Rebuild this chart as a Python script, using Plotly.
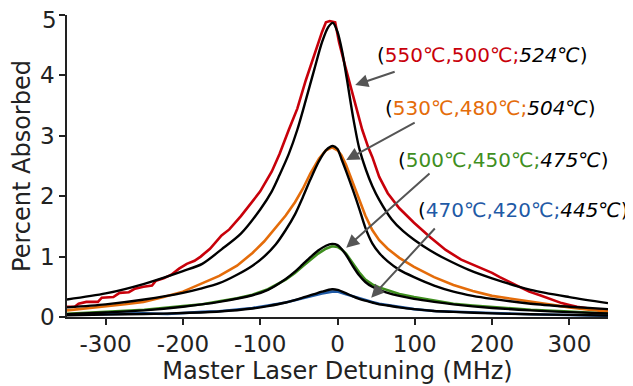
import plotly.graph_objects as go

# ---------------- data ----------------
red_x = [-350,-340,-335,-325,-310,-305,-290,-282,-270,-262,-251,-240,-235,-225,-215,-205,-195,-185,-177,-165,-150,-140,-125,-110,-100,-85,-75,-63,-52,-41,-30,-20,-15,-10,-3,2,10,17,24,32,40,45,54,65,80,99,120,140,160,180,200,210,222,235,248,262,278,290,300,310,321,335,350]
red_y = [0.17,0.17,0.22,0.25,0.25,0.32,0.33,0.40,0.41,0.47,0.50,0.52,0.60,0.64,0.70,0.80,0.88,0.93,1.00,1.13,1.35,1.45,1.67,1.92,2.08,2.41,2.70,3.10,3.45,3.92,4.35,4.72,4.88,4.90,4.88,4.55,4.15,3.80,3.48,3.10,2.80,2.65,2.32,2.05,1.80,1.56,1.32,1.11,0.95,0.84,0.73,0.66,0.58,0.50,0.42,0.36,0.29,0.23,0.20,0.17,0.15,0.12,0.09]

red_fit_x = [-350,-300,-250,-200,-175,-150,-125,-100,-85,-75,-63,-52,-41,-30,-20,-12,-6,0,6,12,20,28,37,45,54,70,85,100,120,140,170,200,250,300,350]
red_fit_y = [0.29,0.39,0.55,0.76,0.88,1.12,1.38,1.78,2.08,2.35,2.70,3.10,3.59,4.10,4.55,4.80,4.87,4.72,4.40,3.95,3.32,2.80,2.43,2.17,1.94,1.62,1.42,1.27,1.10,0.96,0.78,0.64,0.45,0.33,0.23]

orange_x = [-350,-325,-300,-275,-251,-225,-200,-177,-153,-130,-110,-95,-85,-67,-55,-45,-35,-24,-15,-7,0,5,11,20,28,36,45,54,65,80,99,125,150,175,200,225,248,275,300,325,350]
orange_y = [0.11,0.14,0.18,0.21,0.25,0.33,0.42,0.55,0.68,0.85,1.06,1.25,1.40,1.68,1.90,2.12,2.38,2.62,2.76,2.81,2.76,2.68,2.52,2.22,1.94,1.68,1.44,1.27,1.13,0.98,0.83,0.66,0.53,0.43,0.35,0.30,0.26,0.20,0.16,0.12,0.09]

orange_fit_x = [-350,-300,-250,-200,-177,-153,-130,-110,-95,-80,-67,-55,-45,-35,-24,-15,-6,0,5,11,20,28,36,45,54,65,80,99,125,150,175,200,250,300,350]
orange_fit_y = [0.16,0.21,0.29,0.40,0.47,0.56,0.70,0.85,1.00,1.20,1.44,1.70,1.98,2.28,2.58,2.76,2.83,2.78,2.62,2.42,2.10,1.80,1.48,1.22,1.06,0.92,0.78,0.66,0.52,0.42,0.35,0.30,0.22,0.17,0.13]

green_x = [-350,-300,-250,-200,-175,-153,-130,-110,-90,-67,-55,-45,-35,-25,-15,-7,0,5,11,20,28,36,45,54,65,80,99,125,150,175,200,250,300,350]
green_y = [0.055,0.083,0.12,0.18,0.21,0.26,0.31,0.37,0.46,0.62,0.73,0.84,0.95,1.05,1.13,1.17,1.16,1.12,1.05,0.88,0.74,0.62,0.54,0.49,0.44,0.38,0.33,0.27,0.22,0.19,0.165,0.12,0.09,0.055]

green_fit_x = [-350,-300,-250,-200,-153,-110,-90,-67,-55,-45,-35,-25,-15,-7,0,5,11,20,28,36,45,54,65,80,99,125,150,200,250,300,350]
green_fit_y = [0.045,0.075,0.11,0.17,0.25,0.36,0.45,0.63,0.75,0.87,0.99,1.10,1.18,1.21,1.19,1.13,1.03,0.84,0.69,0.58,0.50,0.45,0.40,0.35,0.30,0.25,0.21,0.15,0.11,0.08,0.06]

blue_x = [-350,-300,-250,-220,-200,-175,-153,-130,-110,-90,-67,-45,-30,-20,-7,0,10,20,28,36,45,54,65,80,99,125,150,200,250,300,350]
blue_y = [0.04,0.05,0.06,0.05,0.07,0.085,0.095,0.12,0.15,0.19,0.24,0.31,0.36,0.39,0.42,0.42,0.38,0.34,0.31,0.28,0.25,0.22,0.20,0.17,0.13,0.10,0.085,0.065,0.045,0.03,0.02]

blue_fit_x = [-350,-300,-250,-200,-153,-110,-90,-67,-45,-30,-20,-7,0,10,20,28,36,45,54,65,80,99,125,150,200,250,300,350]
blue_fit_y = [0.03,0.04,0.05,0.065,0.09,0.14,0.18,0.24,0.32,0.38,0.42,0.46,0.45,0.40,0.34,0.30,0.27,0.24,0.21,0.19,0.16,0.13,0.10,0.085,0.06,0.045,0.035,0.025]

x_ticks = [-300, -200, -100, 0, 100, 200, 300]
y_ticks = [0, 1, 2, 3, 4, 5]

RED = "#c8000a"
ORANGE = "#e46c0a"
GREEN = "#3f8f1f"
BLUE = "#1f5aa6"
FONT = "DejaVu Sans"
AXIS_COL = "#222222"

labels = [
    ("550℃,500℃;", "524℃", RED),
    ("530℃,480℃;", "504℃", ORANGE),
    ("500℃,450℃;", "475℃", GREEN),
    ("470℃,420℃;", "445℃", BLUE),
]
# label anchor (left, middle) and arrow (tail -> head) in data coordinates
label_pos = [(48, 4.34), (58.5, 3.46), (75.5, 2.60), (101, 1.77)]
arrow_tail = [(75.9, 4.07), (101.8, 3.23), (121, 2.40), (127.7, 1.49)]
arrow_head = [(22.9, 3.84), (11.3, 2.60), (11.3, 1.145), (43.6, 0.32)]

fig = go.Figure()
series = [
    (red_x, red_y, red_fit_x, red_fit_y, RED),
    (orange_x, orange_y, orange_fit_x, orange_fit_y, ORANGE),
    (green_x, green_y, green_fit_x, green_fit_y, GREEN),
    (blue_x, blue_y, blue_fit_x, blue_fit_y, BLUE),
]
for dx, dy, fx, fy, col in series:
    fig.add_trace(go.Scatter(x=dx, y=dy, mode="lines",
                             line=dict(color=col, width=2.6), showlegend=False))
for dx, dy, fx, fy, col in series:
    fig.add_trace(go.Scatter(x=fx, y=fy, mode="lines",
                             line=dict(color="black", width=2.4, shape="spline", smoothing=0.8),
                             showlegend=False))

for (main, ital, col), (lx, ly), (tx, ty), (hx, hy) in zip(labels, label_pos, arrow_tail, arrow_head):
    fig.add_annotation(x=hx, y=hy, ax=tx, ay=ty, xref="x", yref="y", axref="x", ayref="y",
                       showarrow=True, arrowhead=2, arrowsize=1.3, arrowwidth=2,
                       arrowcolor="#555555", text="")
    fig.add_annotation(x=lx, y=ly, xref="x", yref="y", showarrow=False,
                       xanchor="left", yanchor="middle",
                       text=f'(<span style="color:{col}">{main}</span><i>{ital}</i>)',
                       font=dict(family=FONT, size=20, color="black"))

# the top tick label would be clipped by the page edge; draw it as text just below
y_ticktext = [str(v) for v in y_ticks]
top_label = y_ticktext[-1]
y_ticktext[-1] = ""
fig.add_annotation(x=0, xref="paper", y=y_ticks[-1], yref="y", showarrow=False,
                   xanchor="right", yanchor="middle", xshift=-8, yshift=-5,
                   text=top_label, font=dict(family=FONT, size=23, color=AXIS_COL))

axis_common = dict(showgrid=False, zeroline=False, showline=True, linecolor=AXIS_COL,
                   linewidth=1.5, ticks="outside", ticklen=6, tickwidth=1.5, automargin=False,
                   tickcolor=AXIS_COL, tickfont=dict(family=FONT, size=23, color=AXIS_COL))
fig.update_xaxes(range=[-350, 350], tickvals=x_ticks, ticktext=[str(v) for v in x_ticks],
                 title=dict(text="Master Laser Detuning (MHz)",
                            font=dict(family=FONT, size=24, color=AXIS_COL), standoff=4),
                 **axis_common)
fig.update_yaxes(range=[0, 5], tickvals=y_ticks, ticktext=y_ticktext,
                 title=dict(text="Percent Absorbed",
                            font=dict(family=FONT, size=24, color=AXIS_COL), standoff=10),
                 **axis_common)
# the page body adds an 8 px offset, so the figure is 8 px smaller on each axis
fig.update_layout(width=625, height=378, margin=dict(l=59, r=25, t=7, b=69),
                  plot_bgcolor="white", paper_bgcolor="white",
                  font=dict(family=FONT))
fig.write_html("out.html")
